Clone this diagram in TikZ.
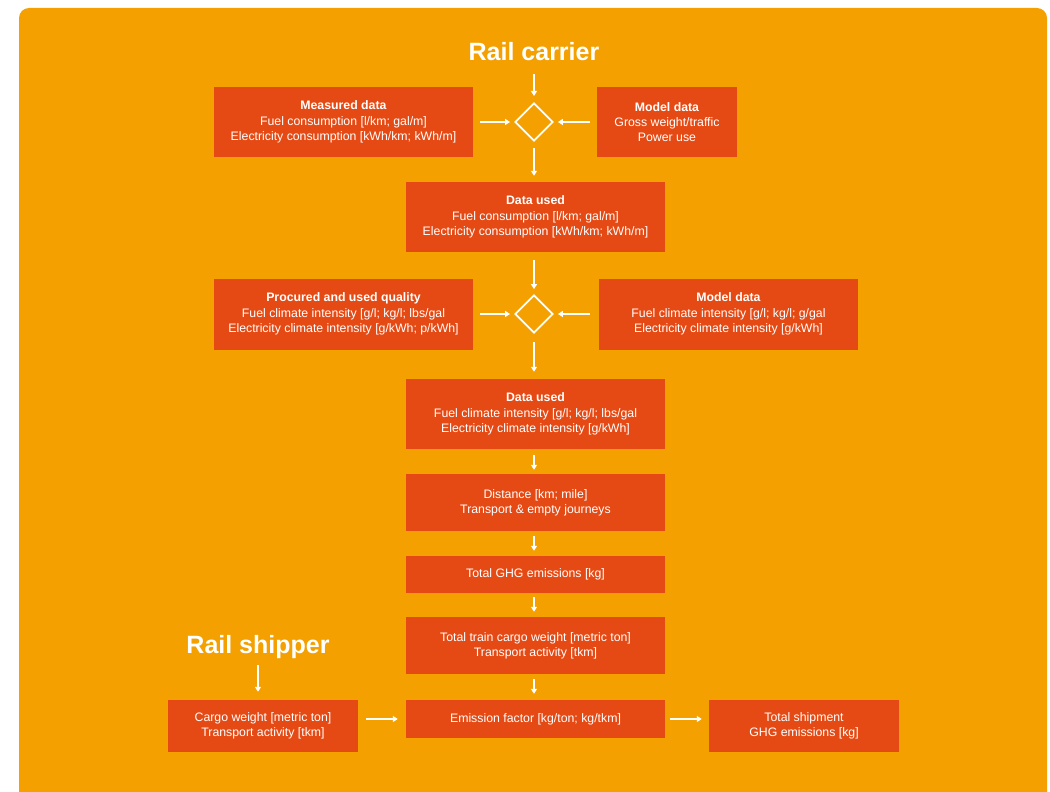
\documentclass[tikz,border=0pt]{standalone}
\usepackage{fontspec}
\setmainfont{Liberation Sans}
\usetikzlibrary{shapes.geometric,arrows.meta}
\definecolor{bgorange}{HTML}{F4A000}
\definecolor{boxred}{HTML}{E64A14}
\tikzset{
  box/.style={fill=boxred, text=white, align=center, inner sep=2pt,
    font=\fontsize{12.3}{15.2}\selectfont},
  ttl/.style={text=white, font=\fontsize{25}{28}\selectfont\bfseries, inner sep=0pt},
  dia/.style={diamond, draw=white, line width=1.8pt, minimum width=38pt, minimum height=38pt, inner sep=0pt},
  arr/.style={draw=white, line width=1.3pt, -{Triangle[length=5pt,width=6pt]}},
}
\begin{document}
\begin{tikzpicture}[x=1pt,y=-1pt]
\useasboundingbox (0,0) rectangle (1050,792);
\fill[white] (0,0) rectangle (1050,792);
\begin{scope}
\clip (0,0) rectangle (1050,792);
\fill[bgorange, rounded corners=10pt] (19,8) rectangle (1047,820);
\end{scope}

\node[ttl] (carrier) at (534,52) {Rail carrier};
\node[ttl] (shipper) at (258,647) {Rail shipper};

\node[box, minimum width=259pt, minimum height=70pt] (meas) at (343.5,122)
  {\textbf{Measured data}\\Fuel consumption [l/km; gal/m]\\Electricity consumption [kWh/km; kWh/m]};
\node[dia] (d1) at (534,122) {};
\node[box, minimum width=140pt, minimum height=70pt] (model1) at (667,122)
  {\textbf{Model data}\\Gross weight/traffic\\Power use};

\node[box, minimum width=259pt, minimum height=70pt] (du1) at (535.5,217)
  {\textbf{Data used}\\Fuel consumption [l/km; gal/m]\\Electricity consumption [kWh/km; kWh/m]};

\node[box, minimum width=259pt, minimum height=71pt] (proc) at (343.5,314)
  {\textbf{Procured and used quality}\\Fuel climate intensity [g/l; kg/l; lbs/gal\\Electricity climate intensity [g/kWh; p/kWh]};
\node[dia] (d2) at (534,314) {};
\node[box, minimum width=259pt, minimum height=71pt] (model2) at (728.5,314)
  {\textbf{Model data}\\Fuel climate intensity [g/l; kg/l; g/gal\\Electricity climate intensity [g/kWh]};

\node[box, minimum width=259pt, minimum height=70pt] (du2) at (535.5,414)
  {\textbf{Data used}\\Fuel climate intensity [g/l; kg/l; lbs/gal\\Electricity climate intensity [g/kWh]};

\node[box, minimum width=259pt, minimum height=57pt] (dist) at (535.5,502.5)
  {Distance [km; mile]\\Transport \& empty journeys};
\node[box, minimum width=259pt, minimum height=37pt] (ghg) at (535.5,574.5)
  {Total GHG emissions [kg]};
\node[box, minimum width=259pt, minimum height=57pt] (train) at (535.5,645.5)
  {Total train cargo weight [metric ton]\\Transport activity [tkm]};
\node[box, minimum width=259pt, minimum height=38pt] (ef) at (535.5,719)
  {Emission factor [kg/ton; kg/tkm]};
\node[box, minimum width=190pt, minimum height=52pt] (cargo) at (263,726)
  {Cargo weight [metric ton]\\Transport activity [tkm]};
\node[box, minimum width=190pt, minimum height=52pt] (total) at (804,726)
  {Total shipment\\GHG emissions [kg]};

\draw[arr, shorten <=22pt, shorten >=26pt] (carrier.center) -- (d1.center);
\draw[arr, shorten <=7pt, shorten >=4pt] (meas.east) -- (d1.west);
\draw[arr, shorten <=7pt, shorten >=4pt] (model1.west) -- (d1.east);
\draw[arr, shorten <=6pt, shorten >=6pt] (d1.south) -- (d1.south |- du1.north);
\draw[arr, shorten <=8pt, shorten >=5pt] (d2.north |- du1.south) -- (d2.north);
\draw[arr, shorten <=7pt, shorten >=4pt] (proc.east) -- (d2.west);
\draw[arr, shorten <=9pt, shorten >=4pt] (model2.west) -- (d2.east);
\draw[arr, shorten <=8pt, shorten >=7pt] (d2.south) -- (d2.south |- du2.north);
\draw[arr, shorten <=6pt, shorten >=4pt] (d2.south |- du2.south) -- (d2.south |- dist.north);
\draw[arr, shorten <=5pt, shorten >=5pt] (d2.south |- dist.south) -- (d2.south |- ghg.north);
\draw[arr, shorten <=4pt, shorten >=5pt] (d2.south |- ghg.south) -- (d2.south |- train.north);
\draw[arr, shorten <=5pt, shorten >=6pt] (d2.south |- train.south) -- (d2.south |- ef.north);
\draw[arr, shorten <=18pt, shorten >=8pt] (shipper.center) -- (shipper.center |- cargo.north);
\draw[arr, shorten <=8pt, shorten >=8pt] (cargo.east |- ef.west) -- (ef.west);
\draw[arr, shorten <=5pt, shorten >=7pt] (ef.east) -- (ef.east -| total.west);
\end{tikzpicture}
\end{document}
